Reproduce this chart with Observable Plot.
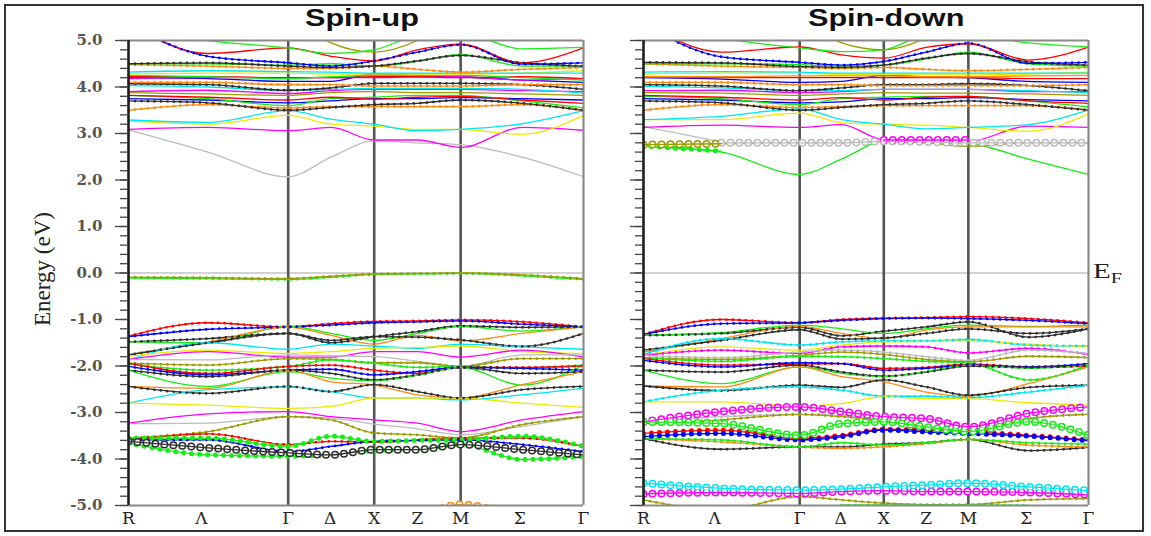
<!DOCTYPE html>
<html><head><meta charset="utf-8">
<script src="https://cdn.jsdelivr.net/npm/d3@7"></script>
<script src="https://cdn.jsdelivr.net/npm/@observablehq/plot@0.6"></script>
<style>
body{margin:0;background:#fff;}
#wrap{position:relative;width:1151px;height:536px;overflow:hidden;background:#fff;}
#border{position:absolute;left:4px;top:4px;width:1140px;height:528px;border:2px solid #333;box-sizing:border-box;}
.panel{position:absolute;top:0;}
.title{position:absolute;top:7px;font-family:"Liberation Sans",Arial,sans-serif;font-weight:bold;font-size:23px;line-height:23px;color:#111;transform:scaleX(1.33);transform-origin:0 0;white-space:nowrap;}
#ylab{position:absolute;left:42px;top:269px;font-family:"Liberation Serif","Times New Roman",serif;font-size:23px;line-height:23px;color:#222;white-space:nowrap;transform:translate(-50%,-50%) rotate(-90deg);}
#ef{position:absolute;left:1093px;top:261px;font-family:"Liberation Serif","Times New Roman",serif;line-height:20px;color:#222;transform:scaleX(1.45);transform-origin:0 0;white-space:nowrap;}
</style></head>
<body><div id="wrap">
<div id="border"></div>
<div id="left" class="panel" style="left:0px"></div>
<div id="right" class="panel" style="left:600px"></div>
<div class="title" style="left:305px">Spin-up</div>
<div class="title" style="left:808px">Spin-down</div>
<div id="ylab">Energy (eV)</div>
<div id="ef"><span style="font-size:20px">E</span><span style="font-size:14px;position:relative;top:5px">F</span></div>
</div>
<script>
// k-path sampling positions (fraction of path) : R, Λ, Γ, Δ, X, Z, M, Σ, Γ
const kPoints = [0, 0.175, 0.351, 0.445, 0.54, 0.635, 0.73, 0.865, 1];
const kTicks = [0, 0.16, 0.351, 0.443, 0.54, 0.635, 0.73, 0.86, 1];
const kLabels = ["R", "Λ", "Γ", "Δ", "X", "Z", "M", "Σ", "Γ"];
const symPoints = [0.351, 0.54, 0.73];
const eMajor = [-5, -4, -3, -2, -1, 0, 1, 2, 3, 4, 5];
const eMinor = d3.range(-50, 51, 2).map(d => d / 10);
const colorKeys = ["bk", "rd", "gn", "bl", "yl", "mg", "cy", "or", "gy", "ol"];
const colorHex = ["#2e2e2e", "#ff0000", "#14ee14", "#0000ff", "#eaea00", "#ff00ff", "#00e6ef", "#ff8a14", "#bcbcbc", "#9c9c00"];

// bands: [colour key, projection weight (0 line, 1 dots, 2 rings, 3 big dots), energies at kPoints]
const upBands = [
  ["gy", 0, [3.08, 2.6, 2.07, 2.49, 2.84, 2.8, 2.76, 2.49, 2.07]],
  ["mg", 0, [3.09, 3.13, 3.06, 3.13, 2.86, 2.86, 2.7, 3.13, 3.07]],
  ["yl", 0, [3.27, 3.2, 3.39, 3.2, 3.16, 3.09, 3.09, 2.98, 3.39]],
  ["cy", 0, [3.29, 3.24, 3.49, 3.31, 3.2, 3.06, 3.09, 3.21, 3.49]],
  ["or", 1, [3.5, 3.62, 3.55, 3.58, 3.58, 3.58, 3.58, 3.62, 3.5]],
  ["bk", 1, [3.7, 3.66, 3.5, 3.56, 3.62, 3.65, 3.72, 3.65, 3.5]],
  ["bl", 0, [3.75, 3.72, 3.66, 3.7, 3.75, 3.75, 3.77, 3.75, 3.72]],
  ["gn", 0, [3.82, 3.75, 3.6, 3.75, 3.78, 3.82, 3.82, 3.7, 3.55]],
  ["rd", 0, [3.82, 3.78, 3.72, 3.78, 3.74, 3.78, 3.8, 3.72, 3.65]],
  ["ol", 0, [3.88, 3.85, 3.82, 3.88, 3.9, 3.88, 3.88, 3.85, 3.82]],
  ["mg", 0, [3.9, 3.93, 3.86, 3.92, 3.95, 3.95, 3.95, 3.92, 3.9]],
  ["cy", 0, [4.03, 4.0, 3.92, 3.95, 3.97, 3.97, 3.97, 3.95, 3.87]],
  ["bk", 1, [4.07, 4.05, 3.93, 3.98, 4.08, 4.08, 4.08, 4.05, 3.95]],
  ["or", 1, [4.1, 4.1, 4.05, 4.05, 4.02, 4.02, 4.02, 4.05, 4.05]],
  ["bl", 0, [4.2, 4.18, 4.12, 4.12, 4.28, 4.25, 4.22, 4.15, 4.1]],
  ["mg", 0, [4.18, 4.2, 4.2, 4.2, 4.2, 4.22, 4.22, 4.15, 4.18]],
  ["rd", 0, [4.22, 4.22, 4.2, 4.2, 4.22, 4.22, 4.2, 4.22, 4.18]],
  ["gn", 0, [4.25, 4.22, 4.18, 4.22, 4.25, 4.25, 4.25, 4.2, 4.15]],
  ["yl", 0, [4.28, 4.3, 4.3, 4.28, 4.28, 4.28, 4.28, 4.3, 4.35]],
  ["cy", 0, [4.32, 4.35, 4.33, 4.32, 4.3, 4.3, 4.3, 4.3, 4.3]],
  ["or", 1, [4.48, 4.45, 4.4, 4.4, 4.45, 4.38, 4.32, 4.38, 4.42]],
  ["gn", 0, [4.5, 4.5, 4.47, 4.5, 4.45, 4.55, 4.7, 4.45, 4.45]],
  ["bk", 1, [4.5, 4.52, 4.45, 4.42, 4.45, 4.56, 4.68, 4.52, 4.45]],
  ["bl", 1, [5.35, 4.66, 4.52, 4.45, 4.56, 4.75, 4.91, 4.49, 4.52]],
  ["rd", 0, [5.35, 4.72, 4.84, 4.66, 4.56, 4.8, 4.92, 4.52, 4.84]],
  ["gn", 0, [5.3, 5.0, 4.84, 4.72, 4.8, 5.1, 5.15, 4.82, 4.85]],
  ["ol", 0, [null, null, 5.6, 4.95, 4.75, 5.0, 5.6, null, null]],
  ["gn", 1, [-0.11, -0.12, -0.14, -0.09, -0.03, -0.02, -0.01, -0.06, -0.14]],
  ["ol", 1, [-0.09, -0.1, -0.12, -0.07, -0.02, -0.01, 0.0, -0.04, -0.12]],
  ["rd", 1, [-1.36, -1.07, -1.16, -1.09, -1.04, -1.03, -1.01, -1.05, -1.16]],
  ["bl", 1, [-1.37, -1.21, -1.16, -1.12, -1.07, -1.05, -1.03, -1.1, -1.16]],
  ["bk", 1, [-1.48, -1.41, -1.3, -1.5, -1.37, -1.26, -1.14, -1.17, -1.16]],
  ["gn", 0, [-1.48, -1.5, -1.14, -1.3, -1.45, -1.3, -1.15, -1.25, -1.15]],
  ["or", 0, [-1.76, -1.48, -1.17, -1.34, -1.53, -1.34, -1.46, -1.3, -1.16]],
  ["bk", 1, [-1.76, -1.5, -1.3, -1.45, -1.37, -1.38, -1.44, -1.58, -1.3]],
  ["cy", 0, [-1.87, -1.5, -1.64, -1.53, -1.57, -1.62, -1.53, -1.59, -1.64]],
  ["yl", 0, [-1.79, -1.66, -1.73, -1.69, -1.62, -1.6, -1.57, -1.69, -1.73]],
  ["mg", 0, [-1.86, -1.69, -1.81, -1.81, -1.69, -1.69, -1.81, -1.66, -1.81]],
  ["gy", 0, [-1.86, -1.87, -1.76, -1.78, -1.8, -1.9, -2.01, -1.76, -1.76]],
  ["ol", 1, [-1.94, -1.98, -1.84, -1.86, -1.93, -1.93, -2.01, -1.84, -1.84]],
  ["gn", 1, [-1.96, -2.09, -2.01, -1.87, -1.94, -2.03, -2.01, -2.05, -1.98]],
  ["rd", 1, [-1.94, -2.16, -2.01, -1.98, -2.09, -2.16, -2.03, -2.03, -2.0]],
  ["bl", 1, [-2.01, -2.19, -2.09, -2.07, -2.19, -2.12, -2.03, -2.05, -2.09]],
  ["bk", 1, [-2.09, -2.23, -2.09, -2.16, -2.3, -2.19, -2.03, -2.16, -2.12]],
  ["gn", 0, [-2.09, -2.44, -2.12, -2.26, -2.32, -2.2, -2.03, -2.41, -1.98]],
  ["or", 0, [-2.44, -2.48, -2.09, -2.34, -2.41, -2.62, -2.69, -2.4, -2.12]],
  ["bk", 1, [-2.44, -2.59, -2.44, -2.55, -2.4, -2.55, -2.69, -2.51, -2.44]],
  ["cy", 0, [-2.8, -2.51, -2.45, -2.55, -2.69, -2.69, -2.73, -2.62, -2.48]],
  ["yl", 0, [-2.8, -2.84, -2.91, -2.87, -2.69, -2.69, -2.69, -2.8, -2.89]],
  ["mg", 0, [-3.23, -3.03, -2.98, -3.09, -3.16, -3.23, -3.41, -3.16, -2.98]],
  ["gy", 0, [-3.24, -3.23, -3.09, -3.12, -3.25, -3.35, -3.48, -3.3, -3.09]],
  ["ol", 1, [-3.55, -3.41, -3.09, -3.16, -3.44, -3.48, -3.55, -3.26, -3.09]],
  ["rd", 1, [-3.59, -3.46, -3.69, -3.62, -3.64, -3.59, -3.55, -3.55, -3.73]],
  ["gn", 3, [-3.55, -3.55, -3.73, -3.51, -3.62, -3.6, -3.59, -3.51, -3.73]],
  ["bl", 1, [-3.59, -3.59, -3.84, -3.73, -3.62, -3.6, -3.59, -3.69, -3.84]],
  ["bk", 2, [-3.62, -3.76, -3.87, -3.91, -3.8, -3.8, -3.69, -3.8, -3.91]],
  ["gn", 3, [-3.66, -3.91, -3.94, -3.91, -3.82, -3.8, -3.69, -4.01, -3.94]],
  ["or", 2, [null, null, null, null, null, -5.3, -4.98, -5.3, null]]
];

const downBands = [
  ["gn", 0, [2.73, 2.6, 2.12, 2.45, 2.83, 2.8, 2.78, 2.45, 2.12]],
  ["gn", 3, [2.73, 2.62, null, null, null, null, null, null, null]],
  ["gy", 0, [3.15, 2.82, null, null, null, null, null, null, null]],
  ["ol", 0, [2.76, 2.78, 2.8, 2.8, 2.83, 2.8, 2.72, 2.8, 2.8]],
  ["gy", 2, [null, 2.8, 2.8, 2.8, 2.83, 2.82, 2.8, 2.8, 2.8]],
  ["ol", 2, [2.76, 2.78, null, null, null, null, null, null, null]],
  ["mg", 2, [null, null, null, null, 2.86, 2.86, 2.86, null, null]],
  ["mg", 0, [3.13, 3.18, 3.13, 3.19, 2.87, 2.87, 2.83, 3.16, 3.13]],
  ["yl", 0, [3.3, 3.3, 3.44, 3.23, 3.2, 3.18, 3.13, 3.05, 3.42]],
  ["cy", 0, [3.3, 3.37, 3.53, 3.3, 3.2, 3.1, 3.13, 3.19, 3.51]],
  ["or", 1, [3.5, 3.62, 3.56, 3.58, 3.6, 3.6, 3.6, 3.6, 3.5]],
  ["bk", 1, [3.7, 3.66, 3.5, 3.56, 3.62, 3.65, 3.7, 3.62, 3.5]],
  ["bl", 0, [3.75, 3.72, 3.66, 3.68, 3.75, 3.75, 3.77, 3.73, 3.7]],
  ["gn", 0, [3.8, 3.75, 3.62, 3.75, 3.78, 3.8, 3.8, 3.7, 3.57]],
  ["rd", 0, [3.82, 3.78, 3.72, 3.77, 3.72, 3.78, 3.8, 3.7, 3.65]],
  ["ol", 0, [3.88, 3.87, 3.82, 3.85, 3.88, 3.87, 3.87, 3.85, 3.82]],
  ["mg", 0, [3.92, 3.93, 3.88, 3.9, 3.95, 3.95, 3.95, 3.9, 3.9]],
  ["cy", 0, [4.02, 3.98, 3.92, 3.92, 3.95, 3.95, 3.95, 3.92, 3.88]],
  ["bk", 1, [4.05, 4.02, 3.92, 3.98, 4.05, 4.05, 4.07, 4.03, 3.92]],
  ["or", 1, [4.1, 4.1, 4.05, 4.05, 4.03, 4.03, 4.03, 4.03, 4.05]],
  ["bl", 0, [4.2, 4.17, 4.1, 4.12, 4.25, 4.22, 4.2, 4.12, 4.1]],
  ["rd", 0, [4.22, 4.2, 4.2, 4.2, 4.2, 4.2, 4.2, 4.18, 4.18]],
  ["or", 0, [4.22, 4.22, 4.24, 4.24, 4.24, 4.22, 4.22, 4.24, 4.25]],
  ["yl", 0, [4.28, 4.3, 4.3, 4.27, 4.27, 4.26, 4.26, 4.28, 4.32]],
  ["cy", 0, [4.32, 4.33, 4.32, 4.3, 4.3, 4.3, 4.3, 4.3, 4.3]],
  ["or", 1, [4.5, 4.45, 4.42, 4.4, 4.42, 4.38, 4.35, 4.38, 4.42]],
  ["gn", 0, [4.5, 4.5, 4.48, 4.45, 4.47, 4.6, 4.75, 4.5, 4.45]],
  ["bk", 1, [4.53, 4.52, 4.44, 4.42, 4.47, 4.62, 4.72, 4.54, 4.47]],
  ["bl", 1, [5.35, 4.65, 4.53, 4.47, 4.55, 4.75, 4.94, 4.51, 4.53]],
  ["rd", 0, [5.4, 4.75, 4.86, 4.69, 4.62, 4.85, 4.93, 4.58, 4.86]],
  ["gn", 0, [5.4, 5.05, 4.84, 4.76, 4.8, 5.1, 5.1, 4.95, 4.86]],
  ["ol", 0, [null, null, 5.8, 4.95, 4.8, 5.05, 5.6, null, null]],
  ["rd", 1, [-1.32, -1.0, -1.07, -1.0, -0.97, -0.96, -0.94, -0.98, -1.07]],
  ["bl", 1, [-1.32, -1.09, -1.07, -1.02, -0.98, -0.97, -0.98, -1.02, -1.09]],
  ["bk", 1, [-1.34, -1.3, -1.17, -1.35, -1.25, -1.16, -1.05, -1.38, -1.2]],
  ["gn", 0, [-1.34, -1.28, -1.12, -1.2, -1.3, -1.2, -1.12, -1.15, -1.12]],
  ["or", 0, [-1.7, -1.41, -1.15, -1.3, -1.41, -1.23, -1.16, -1.16, -1.16]],
  ["bk", 1, [-1.66, -1.45, -1.22, -1.42, -1.4, -1.3, -1.2, -1.3, -1.2]],
  ["cy", 1, [-1.75, -1.41, -1.55, -1.48, -1.46, -1.46, -1.43, -1.55, -1.57]],
  ["yl", 0, [-1.77, -1.59, -1.66, -1.55, -1.48, -1.47, -1.46, -1.53, -1.59]],
  ["mg", 1, [-1.77, -1.66, -1.73, -1.59, -1.57, -1.59, -1.72, -1.62, -1.75]],
  ["gy", 1, [-1.77, -1.82, -1.7, -1.66, -1.7, -1.8, -1.88, -1.66, -1.73]],
  ["ol", 1, [-1.82, -1.86, -1.77, -1.7, -1.75, -1.86, -1.91, -1.79, -1.82]],
  ["gn", 1, [-1.82, -1.9, -1.79, -1.8, -1.84, -1.9, -1.93, -2.3, -1.98]],
  ["rd", 1, [-1.84, -1.98, -1.96, -1.95, -2.05, -2.03, -1.96, -2.02, -2.0]],
  ["bl", 1, [-1.88, -2.02, -1.93, -1.95, -2.09, -2.05, -1.98, -2.02, -1.95]],
  ["bk", 1, [-2.09, -2.13, -1.98, -2.13, -2.22, -2.13, -2.0, -2.03, -1.98]],
  ["gn", 0, [-2.09, -2.38, -2.02, -2.16, -2.23, -2.12, -1.98, -2.05, -1.98]],
  ["or", 0, [-2.43, -2.45, -2.02, -2.23, -2.34, -2.56, -2.65, -2.38, -2.02]],
  ["bk", 1, [-2.43, -2.53, -2.41, -2.46, -2.3, -2.45, -2.63, -2.46, -2.41]],
  ["cy", 1, [-2.77, -2.52, -2.45, -2.52, -2.65, -2.65, -2.68, -2.56, -2.41]],
  ["yl", 0, [-2.77, -2.77, -2.86, -2.81, -2.66, -2.7, -2.7, -2.79, -2.84]],
  ["gy", 1, [-3.2, -3.09, -3.04, -3.06, -3.2, -3.3, -3.38, -3.13, -3.04]],
  ["ol", 1, [-3.24, -3.16, -3.04, -3.09, -3.18, -3.31, -3.41, -3.13, -3.04]],
  ["bk", 1, [-3.56, -3.79, -3.74, -3.74, -3.68, -3.65, -3.58, -3.82, -3.75]],
  ["or", 1, [-3.56, -3.63, -3.74, -3.77, -3.74, -3.67, -3.58, -3.7, -3.74]],
  ["gn", 1, [-3.56, -3.59, -3.74, -3.65, -3.7, -3.65, -3.58, -3.65, -3.68]],
  ["rd", 3, [-3.45, -3.38, -3.56, -3.49, -3.36, -3.38, -3.41, -3.49, -3.59]],
  ["bl", 3, [-3.52, -3.45, -3.59, -3.52, -3.38, -3.42, -3.45, -3.51, -3.61]],
  ["mg", 2, [-3.2, -2.98, -2.88, -2.98, -3.09, -3.13, -3.31, -3.02, -2.88]],
  ["gn", 2, [-3.2, -3.24, -3.49, -3.24, -3.2, -3.31, -3.41, -3.2, -3.49]],
  ["ol", 1, [-4.88, -5.1, -4.81, -4.88, -4.95, -4.98, -4.98, -4.88, -4.85]],
  ["gn", 1, [null, null, null, -4.99, -4.99, -4.99, -4.99, -5.0, null]],
  ["mg", 2, [-4.75, -4.72, -4.74, -4.7, -4.68, -4.7, -4.7, -4.72, -4.77]],
  ["cy", 2, [-4.52, -4.63, -4.67, -4.65, -4.6, -4.56, -4.52, -4.6, -4.68]]
];

function buildRows(bands) {
  return bands.flatMap(([c, w, vals], bi) =>
    kPoints.map((k, i) => ({band: bi, c, w, k, e: vals[i] == null ? NaN : vals[i]})));
}

function bandMarks(rows) {
  const base = {x: "k", y: "e", z: "band", stroke: "c", curve: "monotone-x"};
  const ring = rows.filter(d => d.w === 2);
  return [
    Plot.line(rows.filter(d => d.w !== 2), {...base, strokeWidth: 1.3}),
    Plot.line(rows.filter(d => d.w === 1), {...base, strokeWidth: 2.7, strokeLinecap: "round", strokeDasharray: "0 6.5"}),
    Plot.line(rows.filter(d => d.w === 3), {...base, strokeWidth: 5, strokeLinecap: "round", strokeDasharray: "0 8"}),
    Plot.line(ring, {...base, strokeWidth: 8, strokeLinecap: "round", strokeDasharray: "0 9"}),
    Plot.line(ring, {...base, stroke: "white", strokeWidth: 5, strokeLinecap: "round", strokeDasharray: "0 9"}),
    Plot.line(ring, {...base, strokeWidth: 1.3})
  ];
}

function panel(bands, id, width, ml, mr, showLabels) {
  const mt = 40, mb = 31, height = 536;
  const svg = Plot.plot({
    width, height, marginLeft: ml, marginRight: mr, marginTop: mt, marginBottom: mb,
    style: {background: "transparent", overflow: "visible"},
    x: {domain: [0, 1]},
    y: {domain: [-5, 5]},
    color: {type: "ordinal", domain: colorKeys, range: colorHex},
    marks: [
      Plot.ruleY([0], {stroke: "#c4c4c4", strokeWidth: 1.6}),
      Plot.ruleX(symPoints, {stroke: "#555", strokeWidth: 2.6}),
      ...bandMarks(buildRows(bands)),
      Plot.ruleY([5, -5], {stroke: "#8a8a8a", strokeWidth: 2.2}),
      Plot.ruleX([1], {stroke: "#8a8a8a", strokeWidth: 2.2}),
      Plot.ruleX([0], {stroke: "#1e1e1e", strokeWidth: 2.6}),
      Plot.axisY(eMinor, {tickSize: 8, tickFormat: () => "", stroke: "#444", strokeWidth: 1.3, label: null}),
      Plot.axisY(eMajor, {tickSize: 13, tickPadding: 13, strokeWidth: 1.3, stroke: "#444",
        tickFormat: showLabels ? (d => d.toFixed(1)) : (() => ""), label: null}),
      Plot.axisX(kTicks, {tickSize: 0, tickPadding: 6, tickFormat: d => kLabels[kTicks.indexOf(d)], label: null})
    ]
  });
  const s = d3.select(svg);
  s.selectAll('g[aria-label="y-axis tick label"]')
    .attr("font-family", "DejaVu Serif").attr("font-weight", "bold").attr("font-size", 15).attr("fill", "#555");
  s.selectAll('g[aria-label="x-axis tick label"]')
    .attr("font-family", "DejaVu Serif").attr("font-size", 17).attr("fill", "#222");
  const cid = "clip-" + id;
  s.append("defs").append("clipPath").attr("id", cid).append("rect")
    .attr("x", ml).attr("y", mt).attr("width", width - ml - mr).attr("height", height - mt - mb);
  s.selectAll('g[aria-label="line"]').attr("clip-path", `url(#${cid})`);
  document.getElementById(id).appendChild(svg);
}

panel(upBands, "left", 600, 128, 17, true);
panel(downBands, "right", 551, 43, 63, false);
</script>
</body></html>
